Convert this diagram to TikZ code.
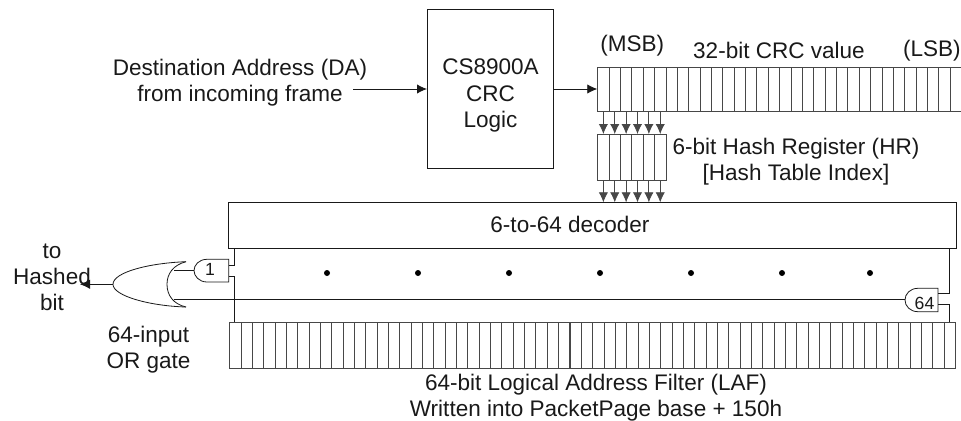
\documentclass[tikz,border=0pt]{standalone}
\usepackage{fontspec}
\setmainfont{Liberation Sans}
\usetikzlibrary{arrows.meta,calc}
\definecolor{ink}{gray}{0.1}
\tikzset{
  wire/.style={draw=ink,line width=0.6pt},
  grid/.style={draw=ink!80!white,line width=0.6pt},
  head/.style={-{Latex[length=7.5pt,width=7pt]}},
  lbl/.style={font=\fontsize{16.9}{19.6}\selectfont,text=ink,inner sep=0pt,align=center},
  small/.style={font=\fontsize{13.2}{15}\selectfont,text=ink,inner sep=0pt},
  dotmark/.style={circle,fill=black,inner sep=0pt,minimum size=4.5pt},
  box/.style={draw=ink,line width=0.6pt,inner sep=0pt,anchor=north west}
}
\begin{document}
\begin{tikzpicture}[x=0.75pt,y=-0.75pt]
\useasboundingbox (0,0) rectangle (961,421);
% CRC logic box
\node[box,minimum width=94.3pt,minimum height=119.25pt] (crc) at (427,9.3) {};
\node[lbl] (crct) at (490.5,95.5) {CS8900A\\CRC\\Logic};
% labels
\node[lbl] (da) at (240,82.5) {Destination Address (DA)\\from incoming frame};
\node[lbl,anchor=west] (msb) at (600,45.5) {(MSB)};
\node[lbl] (val) at (779,50.5) {32-bit CRC value};
\node[lbl,anchor=east] (lsb) at (961,50.5) {(LSB)};
\node[lbl] (hrl) at (796,162) {6-bit Hash Register (HR)\\{}[Hash Table Index]};
\node[lbl] (dect) at (570,224) {6-to-64 decoder};
\node[lbl] (to) at (52,277.5) {to\\Hashed\\bit};
\node[lbl] (orl) at (148.5,350) {64-input\\OR gate};
\node[lbl] (lafl) at (596,398) {64-bit Logical Address Filter (LAF)\\Written into PacketPage base + 150h};
% CRC register
\coordinate (c0) at (597.3,66.7);
\foreach \i in {0,...,31}{
  \node[box,grid,minimum width=8.53pt,minimum height=33.45pt] (cr\i) at ($(c0)+(\i*11.37,0)$) {};
}
% Hash register
\coordinate (h0) at (597.3,134);
\foreach \i in {0,...,5}{
  \node[box,grid,minimum width=8.53pt,minimum height=34.2pt] (hr\i) at ($(h0)+(\i*11.37,0)$) {};
}
% decoder
\node[box,minimum width=545.5pt,minimum height=34.2pt] (dec) at (228.3,202.3) {};
% LAF
\coordinate (l0) at (229.3,322.3);
\foreach \i in {0,...,63}{
  \node[box,grid,minimum width=8.5pt,minimum height=34.2pt] (lf\i) at ($(l0)+(\i*11.34,0)$) {};
}
% CRC to HR, HR to decoder
\foreach \i in {0,...,5}{
  \draw[grid,head] (cr\i.south) -- (hr\i.north);
  \coordinate (dd\i) at (hr\i.south |- dec.north);
  \draw[grid,head] (hr\i.south) -- (dd\i);
}
% main arrows
\coordinate (daend) at (353,89);
\draw[wire,head] (daend) -- (daend -| crc.west);
\coordinate (crcout) at (crc.east |- daend);
\draw[wire,head] (crcout) -- (crcout -| cr0.west);
% dots
\foreach \x [count=\n] in {327,418,509,600,691,782,870}{
  \node[dotmark] (dot\n) at (\x,273) {};
}
% AND gate 1
\draw[wire] (228.7,259.3) -- (207,259.3) .. controls (199,259.3) and (194,265) .. (194,270.6) .. controls (194,276) and (199,282) .. (207,282) -- (228.7,282) -- cycle;
\node[small] (g1) at (210,269.5) {1};
\coordinate (g1o) at (194,270.6);
\coordinate (g1a) at (228.7,265);
\coordinate (g1b) at (228.7,276.7);
\coordinate (g1ua) at (234,265);
\coordinate (g1ub) at (234,276.7);
% AND gate 64
\draw[wire] (938,288.3) -- (918,288.3) .. controls (910,288.3) and (905,294) .. (905,300) .. controls (905,306) and (910,311.7) .. (918,311.7) -- (938,311.7) -- cycle;
\node[small] (g64) at (924.5,303) {64};
\coordinate (g64o) at (905,299);
\coordinate (g64a) at (938,293.7);
\coordinate (g64b) at (938,304.7);
% OR gate
\coordinate (ortip) at (113,284.3);
\coordinate (ortop) at (186,261.7);
\coordinate (orbot) at (186,307);
\draw[wire] (ortop) .. controls (150,263) and (113,272) .. (ortip) .. controls (113,296) and (150,306) .. (orbot);
\draw[wire] (ortop) .. controls (173,265) and (167,274) .. (167,284.3) .. controls (167,295) and (173,304) .. (orbot);
% wires
\draw[wire] (g1o) -- (174,270.6);
\draw[wire] (g64o) -- (173.5,299);
\draw[wire] (g1a) -- (g1ua) -- (g1ua |- dec.south);
\draw[wire] (g1b) -- (g1ub) -- (g1ub |- lf0.north);
\draw[wire] (g64a) -- (949.7,293.7) -- (949.7,248);
\draw[wire] (g64b) -- (949.7,304.7) -- (949.7,322.3);
\coordinate (hashed) at (80,284.3);
\draw[wire,head] (ortip) -- (hashed);
\end{tikzpicture}
\end{document}
